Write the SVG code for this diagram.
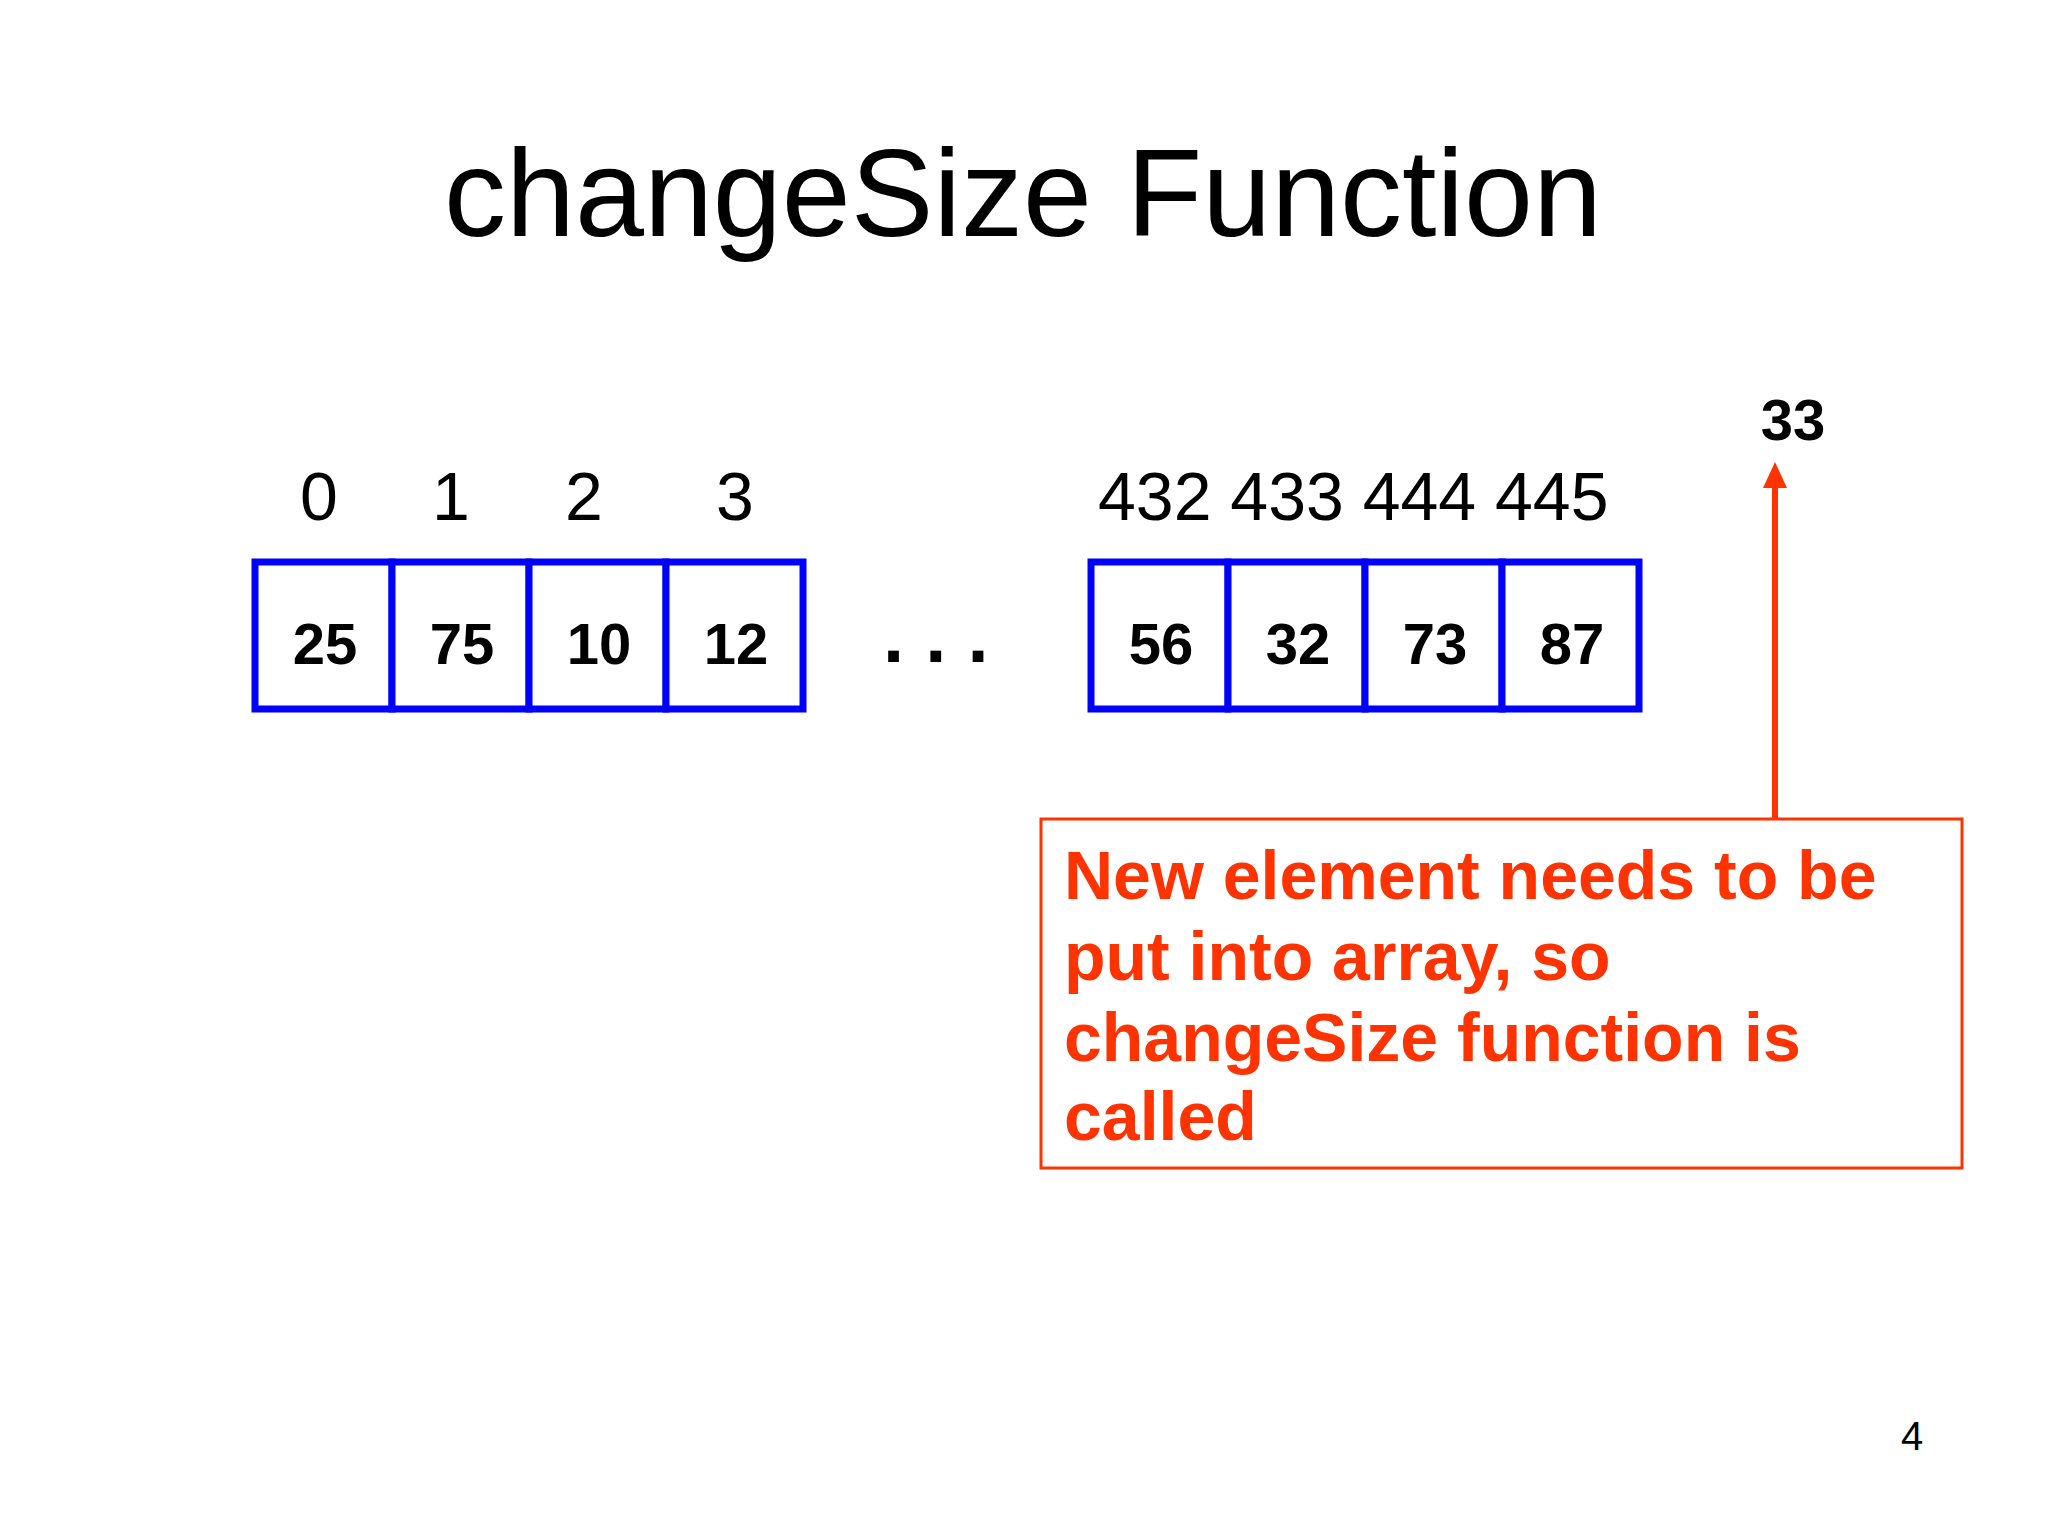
<svg xmlns="http://www.w3.org/2000/svg" width="2048" height="1536" viewBox="0 0 2048 1536">
<style>
.t{font-family:"Liberation Sans",Arial,sans-serif;fill:#000}
.idx{font-size:68px}
.val{font-size:58px;font-weight:bold;text-anchor:middle}
.cell{fill:#fff;stroke:#0000ff;stroke-width:7}
.note{font-family:"Liberation Sans",Arial,sans-serif;font-size:68px;font-weight:bold;fill:#ff3300}
</style>
<rect width="2048" height="1536" fill="#fff"/>
<text class="t" x="1023" y="236" font-size="124" text-anchor="middle">changeSize Function</text>

<g id="left-array">
<rect class="cell" x="255" y="562" width="137" height="147"/>
<rect class="cell" x="392" y="562" width="137" height="147"/>
<rect class="cell" x="529" y="562" width="137" height="147"/>
<rect class="cell" x="666" y="562" width="137" height="147"/>
<text class="t val" x="325" y="664">25</text>
<text class="t val" x="462" y="664">75</text>
<text class="t val" x="599" y="664">10</text>
<text class="t val" x="736" y="664">12</text>
</g>
<g id="left-index">
<text class="t idx" x="319" y="520" text-anchor="middle">0</text>
<text class="t idx" x="451" y="520" text-anchor="middle">1</text>
<text class="t idx" x="584" y="520" text-anchor="middle">2</text>
<text class="t idx" x="735" y="520" text-anchor="middle">3</text>
</g>
<text class="t" x="883" y="662" font-size="76" font-weight="bold">. . .</text>

<g id="right-array">
<rect class="cell" x="1091" y="562" width="137" height="147"/>
<rect class="cell" x="1228" y="562" width="137" height="147"/>
<rect class="cell" x="1365" y="562" width="137" height="147"/>
<rect class="cell" x="1502" y="562" width="137" height="147"/>
<text class="t val" x="1161" y="664">56</text>
<text class="t val" x="1298" y="664">32</text>
<text class="t val" x="1435" y="664">73</text>
<text class="t val" x="1572" y="664">87</text>
</g>
<g id="right-index">
<text class="t idx" x="1098" y="520">432 433 444 445</text>
</g>

<g id="new-element">
<text class="t val" x="1793" y="440" font-size="56">33</text>
</g>

<g id="connectors">
<line x1="1775" y1="819" x2="1775" y2="487" stroke="#ff3300" stroke-width="6"/>
<path d="M1763,488 L1775,462 L1787,488 Z" fill="#ff3300"/>
</g>

<g id="callout">
<rect x="1041" y="819" width="921" height="349" fill="#fff" stroke="#ff3300" stroke-width="3"/>
<text class="note" x="1064" y="899">New element needs to be</text>
<text class="note" x="1064" y="980">put into array, so</text>
<text class="note" x="1064" y="1061">changeSize function is</text>
<text class="note" x="1064" y="1140">called</text>
</g>

<text class="t" x="1912" y="1450" font-size="40" text-anchor="middle">4</text>
</svg>
